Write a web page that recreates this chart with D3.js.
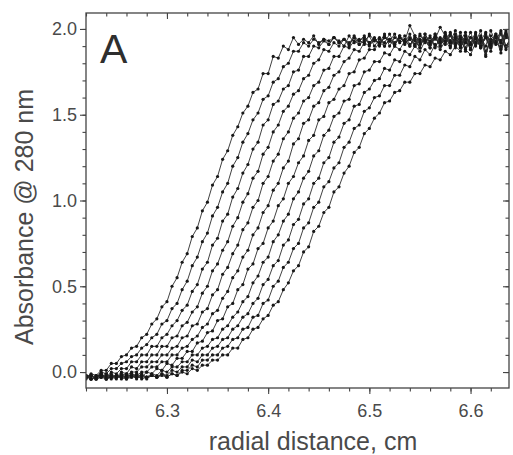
<!DOCTYPE html>
<html lang="en">
<head>
<meta charset="utf-8">
<title>Absorbance scans</title>
<script src="https://cdn.jsdelivr.net/npm/d3@7"></script>
<style>
    body { margin: 0; background: #fff; }
    text { font-family: "Liberation Sans", Arial, Helvetica, sans-serif; fill: #4a4a4a; }
    .axis path { display: none; }
    .axis line { stroke: #444; stroke-width: 1.1px; }
    .scan { fill: none; stroke: #2a2a2a; stroke-width: 0.9px; }
    .pt { fill: #181818; }
</style>
</head>
<body>
<script>
// radial positions of the scan points (cm)
var radius = [
    6.220,6.225,6.230,6.235,6.240,6.245,6.250,6.255,6.260,6.265,
    6.270,6.275,6.280,6.285,6.290,6.295,6.300,6.305,6.310,6.315,
    6.320,6.325,6.330,6.335,6.340,6.345,6.350,6.355,6.360,6.365,
    6.370,6.375,6.380,6.385,6.390,6.395,6.400,6.405,6.410,6.415,
    6.420,6.425,6.430,6.435,6.440,6.445,6.450,6.455,6.460,6.465,
    6.470,6.475,6.480,6.485,6.490,6.495,6.500,6.505,6.510,6.515,
    6.520,6.525,6.530,6.535,6.540,6.545,6.550,6.555,6.560,6.565,
    6.570,6.575,6.580,6.585,6.590,6.595,6.600,6.605,6.610,6.615,
    6.620,6.625,6.630,6.635,6.640
];

// absorbance @ 280 nm, one array per scan (left to right)
var scan1 = [
    -0.03,-0.01,-0.02,0.01,0.01,0.05,0.05,0.09,0.10,0.14,
    0.15,0.20,0.22,0.28,0.31,0.38,0.41,0.50,0.55,0.64,
    0.69,0.79,0.84,0.94,0.99,1.09,1.14,1.24,1.29,1.38,
    1.43,1.51,1.55,1.63,1.65,1.74,1.74,1.84,1.83,1.90,
    1.88,1.95,1.91,1.94,1.92,1.96,1.91,1.94,1.93,1.95,
    1.92,1.94,1.91,1.95,1.93,1.96,1.92,1.94,1.91,1.95,
    1.93,1.97,1.92,1.94,1.90,1.96,1.93,1.95,1.91,1.97,
    1.92,1.95,1.90,1.96,1.93,1.98,1.91,1.95,1.89,1.96,
    1.92,1.97,1.90,1.95,1.93
];
var scan2 = [
    -0.04,-0.02,-0.03,0.00,-0.01,0.02,0.02,0.05,0.06,0.09,
    0.10,0.14,0.16,0.20,0.22,0.28,0.30,0.37,0.40,0.48,
    0.53,0.62,0.67,0.76,0.81,0.91,0.96,1.05,1.10,1.20,
    1.25,1.34,1.39,1.47,1.51,1.59,1.61,1.69,1.71,1.78,
    1.80,1.87,1.87,1.92,1.90,1.94,1.92,1.94,1.91,1.95,
    1.93,1.90,1.96,1.92,1.94,1.91,1.97,1.93,1.95,1.90,
    1.94,1.92,1.96,1.91,1.95,1.93,1.89,1.97,1.92,1.94,
    2.01,1.96,1.93,1.99,1.91,1.94,1.88,1.96,1.92,1.95,
    1.90,1.97,1.93,1.89,1.95
];
var scan3 = [
    -0.03,-0.02,-0.04,-0.01,-0.03,0.00,-0.01,0.02,0.02,0.06,
    0.06,0.10,0.10,0.15,0.15,0.20,0.22,0.27,0.30,0.36,
    0.39,0.47,0.51,0.60,0.64,0.74,0.78,0.88,0.92,1.02,
    1.07,1.16,1.21,1.30,1.34,1.44,1.47,1.56,1.58,1.65,
    1.67,1.75,1.76,1.84,1.84,1.90,1.89,1.93,1.91,1.95,
    1.92,1.94,1.90,1.96,1.93,1.95,1.91,1.94,1.92,1.97,
    1.90,1.95,1.93,1.96,1.91,1.94,1.89,1.97,1.92,1.95,
    1.90,1.98,1.93,1.91,1.96,1.87,1.95,1.92,1.99,1.85,
    1.94,1.91,1.97,1.88,1.94
];
var scan4 = [
    -0.02,-0.04,-0.03,-0.01,-0.03,-0.02,-0.03,0.00,-0.01,0.03,
    0.02,0.06,0.06,0.10,0.10,0.15,0.15,0.20,0.21,0.27,
    0.29,0.35,0.38,0.46,0.50,0.59,0.63,0.71,0.76,0.85,
    0.90,0.99,1.04,1.13,1.17,1.27,1.31,1.40,1.44,1.52,
    1.55,1.62,1.64,1.71,1.73,1.80,1.82,1.88,1.87,1.92,
    1.90,1.94,1.92,1.95,1.91,1.93,1.96,1.90,1.94,1.92,
    1.97,1.91,1.95,1.93,2.02,1.96,1.92,1.94,1.89,1.97,
    1.93,1.91,1.96,1.92,1.98,1.89,1.95,1.91,1.96,1.87,
    1.94,1.92,1.98,1.90,1.95
];
var scan5 = [
    -0.03,-0.02,-0.04,-0.02,-0.03,-0.01,-0.03,-0.01,-0.02,0.00,
    0.00,0.03,0.03,0.06,0.06,0.10,0.10,0.14,0.15,0.20,
    0.21,0.27,0.28,0.35,0.37,0.45,0.48,0.57,0.61,0.69,
    0.74,0.83,0.87,0.96,1.00,1.10,1.14,1.23,1.27,1.36,
    1.40,1.48,1.51,1.58,1.60,1.67,1.69,1.76,1.77,1.84,
    1.84,1.90,1.89,1.93,1.91,1.94,1.92,1.95,1.90,1.96,
    1.93,1.91,1.95,1.92,1.97,1.90,1.94,1.92,1.96,1.89,
    1.95,1.93,1.98,1.91,1.94,1.88,1.85,1.92,1.95,1.90,
    1.99,1.92,1.89,1.96,1.93
];
var scan6 = [
    -0.02,-0.04,-0.03,-0.01,-0.04,-0.02,-0.03,-0.02,-0.03,-0.01,
    -0.02,0.00,0.00,0.03,0.03,0.06,0.06,0.10,0.10,0.14,
    0.15,0.19,0.21,0.26,0.28,0.34,0.36,0.43,0.47,0.55,
    0.59,0.67,0.71,0.80,0.84,0.93,0.97,1.06,1.10,1.19,
    1.23,1.33,1.36,1.45,1.47,1.55,1.57,1.64,1.66,1.73,
    1.75,1.81,1.83,1.88,1.87,1.92,1.90,1.94,1.91,1.95,
    1.93,1.90,1.96,1.92,1.94,1.91,1.97,1.93,1.95,1.90,
    1.94,1.92,1.97,1.89,1.95,1.92,1.98,1.90,1.94,1.84,
    1.96,1.93,1.99,1.90,1.94
];
var scan7 = [
    -0.03,-0.02,-0.04,-0.03,-0.02,-0.04,-0.02,-0.03,-0.01,-0.03,
    -0.01,-0.03,0.00,-0.01,0.02,0.01,0.05,0.04,0.08,0.08,
    0.12,0.12,0.17,0.18,0.23,0.24,0.30,0.31,0.38,0.40,
    0.48,0.51,0.60,0.63,0.72,0.75,0.84,0.88,0.97,1.01,
    1.10,1.14,1.22,1.26,1.35,1.38,1.47,1.49,1.57,1.59,
    1.65,1.67,1.74,1.75,1.82,1.83,1.88,1.88,1.92,1.90,
    1.94,1.91,1.95,1.92,1.94,1.90,1.96,1.93,1.91,1.95,
    1.92,1.97,1.90,1.94,1.92,1.96,1.88,1.95,1.93,1.98,
    1.90,1.95,1.86,1.97,1.92
];
var scan8 = [
    -0.02,-0.04,-0.03,-0.02,-0.04,-0.03,-0.02,-0.03,-0.04,-0.02,
    -0.03,-0.01,-0.03,-0.01,-0.02,0.01,0.00,0.03,0.03,0.06,
    0.06,0.10,0.10,0.14,0.15,0.19,0.20,0.25,0.27,0.32,
    0.35,0.41,0.44,0.52,0.56,0.64,0.67,0.76,0.80,0.88,
    0.92,1.01,1.05,1.13,1.17,1.26,1.29,1.38,1.41,1.49,
    1.51,1.58,1.59,1.67,1.68,1.75,1.76,1.81,1.81,1.86,
    1.85,1.90,1.88,1.93,1.90,1.95,1.91,1.94,1.93,1.96,
    1.90,1.95,1.92,1.97,1.89,1.94,1.92,1.98,1.90,1.95,
    1.87,1.96,1.93,1.99,1.91
];
var scan9 = [
    -0.03,-0.02,-0.04,-0.03,-0.01,-0.03,-0.04,-0.02,-0.03,-0.02,
    -0.04,-0.02,-0.03,-0.02,-0.03,-0.01,-0.02,0.01,0.00,0.03,
    0.03,0.07,0.06,0.10,0.10,0.14,0.15,0.19,0.20,0.25,
    0.27,0.32,0.34,0.40,0.43,0.51,0.54,0.62,0.65,0.74,
    0.77,0.86,0.89,0.98,1.01,1.10,1.13,1.22,1.25,1.34,
    1.37,1.45,1.47,1.55,1.56,1.63,1.65,1.70,1.71,1.77,
    1.76,1.82,1.81,1.87,1.85,1.90,1.87,1.93,1.89,1.95,
    1.90,1.96,1.92,1.94,1.89,1.96,1.91,1.97,1.90,1.95,
    1.89,1.96,1.93,1.98,1.91
];
var scan10 = [
    -0.02,-0.04,-0.03,-0.02,-0.04,-0.03,-0.02,-0.04,-0.03,-0.01,
    -0.03,-0.02,-0.04,-0.02,-0.03,-0.01,-0.03,-0.01,-0.02,0.01,
    0.01,0.04,0.03,0.07,0.07,0.10,0.10,0.14,0.15,0.19,
    0.20,0.25,0.26,0.32,0.33,0.40,0.42,0.50,0.53,0.61,
    0.64,0.72,0.75,0.84,0.87,0.96,0.99,1.08,1.11,1.19,
    1.22,1.31,1.34,1.42,1.44,1.52,1.54,1.60,1.61,1.67,
    1.67,1.73,1.73,1.79,1.78,1.84,1.82,1.88,1.85,1.91,
    1.88,1.93,1.89,1.95,1.90,1.96,1.91,1.95,1.89,1.97,
    1.92,1.95,1.88,1.96,1.92
];
var scan11 = [
    -0.03,-0.04,-0.02,-0.03,-0.04,-0.02,-0.03,-0.02,-0.04,-0.03,
    -0.02,-0.04,-0.03,-0.02,-0.03,-0.02,-0.03,-0.01,-0.02,0.00,
    -0.01,0.02,0.01,0.04,0.04,0.07,0.07,0.10,0.10,0.14,
    0.14,0.19,0.20,0.25,0.26,0.31,0.33,0.39,0.41,0.48,
    0.52,0.59,0.62,0.70,0.73,0.82,0.85,0.93,0.96,1.05,
    1.08,1.16,1.20,1.28,1.31,1.39,1.42,1.48,1.51,1.57,
    1.58,1.63,1.64,1.69,1.69,1.74,1.74,1.79,1.78,1.83,
    1.82,1.87,1.85,1.90,1.87,1.92,1.89,1.94,1.90,1.95,
    1.91,1.96,1.92,1.97,1.91
];
var scans = [scan1, scan2, scan3, scan4, scan5, scan6, scan7, scan8, scan9, scan10, scan11];

var xTicks = [6.3, 6.4, 6.5, 6.6];
var yTicks = [0.0, 0.5, 1.0, 1.5, 2.0];

var width = 513, height = 455;
var plot = {left: 86, right: 509, top: 13, bottom: 388};

var x = d3.scaleLinear().domain([6.22, 6.638]).range([plot.left, plot.right]);
var y = d3.scaleLinear().domain([-0.093, 2.093]).range([plot.bottom, plot.top]);

var svg = d3.select("body").append("svg")
    .attr("width", width)
    .attr("height", height);

// data first, clipped to the frame
svg.append("clipPath").attr("id", "clip")
    .append("rect")
    .attr("x", plot.left).attr("y", plot.top)
    .attr("width", plot.right - plot.left)
    .attr("height", plot.bottom - plot.top);

var data = svg.append("g").attr("clip-path", "url(#clip)");

var line = d3.line()
    .x(function (d) { return x(d[0]); })
    .y(function (d) { return y(d[1]); });

scans.forEach(function (s) {
    var pts = s.map(function (v, i) { return [radius[i], v]; })
        .filter(function (d) { return d[0] !== undefined; });
    data.append("path").datum(pts).attr("class", "scan").attr("d", line);
    data.selectAll(null).data(pts).enter().append("circle")
        .attr("class", "pt")
        .attr("cx", function (d) { return x(d[0]); })
        .attr("cy", function (d) { return y(d[1]); })
        .attr("r", 1.6);
});

// axes: major ticks with labels, minor ticks without, mirrored on top / right
var fmt = d3.format(".1f");

svg.append("g").attr("class", "axis")
    .attr("transform", "translate(" + plot.left + ",0)")
    .call(d3.axisLeft(y).ticks(20).tickSize(3.5).tickFormat(""));
var yMajor = svg.append("g").attr("class", "axis")
    .attr("transform", "translate(" + plot.left + ",0)")
    .call(d3.axisLeft(y).tickValues(yTicks).tickSize(6).tickPadding(3).tickFormat(fmt));

svg.append("g").attr("class", "axis")
    .attr("transform", "translate(" + plot.right + ",0)")
    .call(d3.axisLeft(y).ticks(20).tickSize(3.5).tickFormat(""));
svg.append("g").attr("class", "axis")
    .attr("transform", "translate(" + plot.right + ",0)")
    .call(d3.axisLeft(y).tickValues(yTicks).tickSize(6).tickFormat(""));

svg.append("g").attr("class", "axis")
    .attr("transform", "translate(0," + plot.bottom + ")")
    .call(d3.axisBottom(x).ticks(20).tickSize(3.5).tickFormat(""));
var xMajor = svg.append("g").attr("class", "axis")
    .attr("transform", "translate(0," + plot.bottom + ")")
    .call(d3.axisBottom(x).tickValues(xTicks).tickSize(6).tickPadding(10).tickFormat(fmt));

svg.append("g").attr("class", "axis")
    .attr("transform", "translate(0," + plot.top + ")")
    .call(d3.axisBottom(x).ticks(20).tickSize(3.5).tickFormat(""));
svg.append("g").attr("class", "axis")
    .attr("transform", "translate(0," + plot.top + ")")
    .call(d3.axisBottom(x).tickValues(xTicks).tickSize(6).tickFormat(""));

[yMajor, xMajor].forEach(function (g) {
    g.selectAll("text")
        .attr("fill", "#4a4a4a")
        .style("font-family", "'Liberation Sans', Arial, sans-serif")
        .style("font-size", "18px");
});

// frame
svg.append("rect")
    .attr("x", plot.left).attr("y", plot.top)
    .attr("width", plot.right - plot.left)
    .attr("height", plot.bottom - plot.top)
    .attr("fill", "none")
    .attr("stroke", "#444")
    .attr("stroke-width", 1.3);

// titles
svg.append("text")
    .attr("transform", "rotate(-90)")
    .attr("x", -217)
    .attr("y", 33)
    .attr("text-anchor", "middle")
    .style("font-size", "25px")
    .text("Absorbance @ 280 nm");

svg.append("text")
    .attr("x", 313)
    .attr("y", 450)
    .attr("text-anchor", "middle")
    .style("font-size", "25px")
    .text("radial distance, cm");

svg.append("text")
    .attr("x", 100)
    .attr("y", 63)
    .style("font-size", "41px")
    .style("fill", "#2e2e2e")
    .text("A");
</script>
</body>
</html>
